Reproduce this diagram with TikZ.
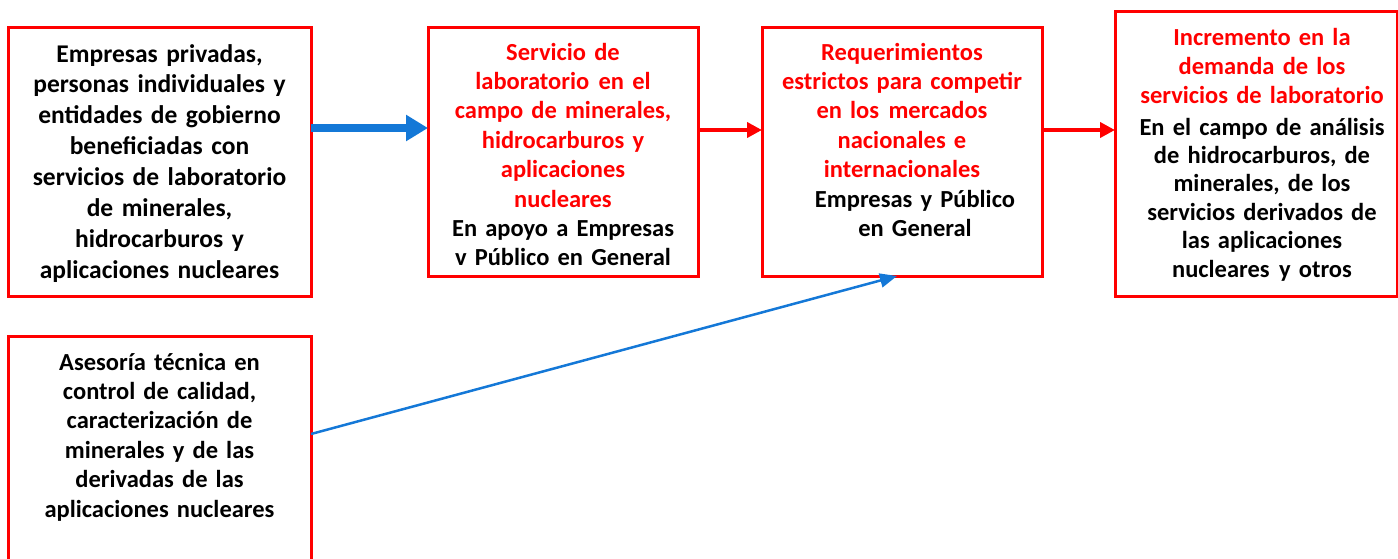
\documentclass[tikz,border=0pt]{standalone}
\usepackage{fontspec}
\setmainfont{Carlito}
\usetikzlibrary{arrows.meta}
\definecolor{boxred}{RGB}{255,0,0}
\definecolor{arrblue}{RGB}{20,120,215}
\tikzset{
  box/.style={draw=boxred, line width=3pt, inner sep=0pt, outer sep=0pt},
  txtA/.style={anchor=base, align=center, text width=300pt, inner sep=0pt,
    font=\fontsize{25.5}{30.9}\selectfont\bfseries},
  txt/.style={anchor=base, align=center, text width=290pt, inner sep=0pt,
    font=\fontsize{24.5}{29.4}\selectfont\bfseries},
  txtD/.style={anchor=base, align=center, text width=290pt, inner sep=0pt,
    font=\fontsize{24.5}{28.4}\selectfont\bfseries},
  bigblue/.style={draw=arrblue, line width=8pt, -{Triangle[length=22pt,width=25pt]}},
  redarr/.style={draw=boxred, line width=4pt, -{Triangle[length=15pt,width=15pt]}},
  thinblue/.style={draw=arrblue, line width=2.5pt, -{Triangle[length=17pt,width=14pt]}}
}
\begin{document}
\begin{tikzpicture}[x=1pt,y=-1pt]
\useasboundingbox (0,0) rectangle (1398,558);
% boxes
\node[box, minimum width=303pt, minimum height=269pt] (a) at (159.5,161.5) {};
\node[box, minimum width=270pt, minimum height=249pt] (b) at (563,151.5) {};
\node[box, minimum width=280pt, minimum height=249pt] (c) at (902,151.5) {};
\node[box, minimum width=282pt, minimum height=285pt] (d) at (1256,153.5) {};
\node[box, minimum width=303pt, minimum height=226pt] (e) at (159.5,449) {};
% texts
\node[txtA] (ta) at (159.5,62) {Empresas privadas,\\personas individuales y\\entidades de gobierno\\beneficiadas con\\servicios de laboratorio\\de minerales,\\hidrocarburos y\\aplicaciones nucleares};
\node[txt] (tb) at (563,60) {\textcolor{boxred}{Servicio de\\laboratorio \hspace{0.05em}en el\\campo de minerales,\\hidrocarburos y\\aplicaciones\\nucleares}\\En apoyo a Empresas\\v Público en General};
\node[txt, text=boxred] (tc) at (902,60) {Requerimientos\\estrictos para competir\\en los \hspace{0.05em}mercados\\nacionales e\\internacionales};
\node[txt] (tc2) at (915,207) {Empresas y Público\\en General};
\node[txt, text=boxred] (td) at (1262,45) {Incremento en la\\demanda de los\\servicios de laboratorio};
\node[txtD] (td2) at (1262,135) {En el campo de análisis\\de hidrocarburos, de\\minerales, de los\\servicios derivados de\\las aplicaciones\\nucleares \hspace{0.05em}y otros};
\node[txt] (te) at (159.5,370) {Asesoría técnica en\\control de calidad,\\caracterización de\\minerales y de las\\derivadas de las\\aplicaciones nucleares};
% arrows
\draw[bigblue] ([yshift=33.5pt]a.east) -- ([yshift=23.5pt]b.west);
\draw[redarr] ([yshift=21.5pt]b.east) -- ([yshift=21.5pt]c.west);
\draw[redarr] ([yshift=21.5pt]c.east) -- ([yshift=23.5pt]d.west);
\draw[thinblue] ([yshift=15pt]e.east) -- ([xshift=-5pt]c.south);
\end{tikzpicture}
\end{document}
